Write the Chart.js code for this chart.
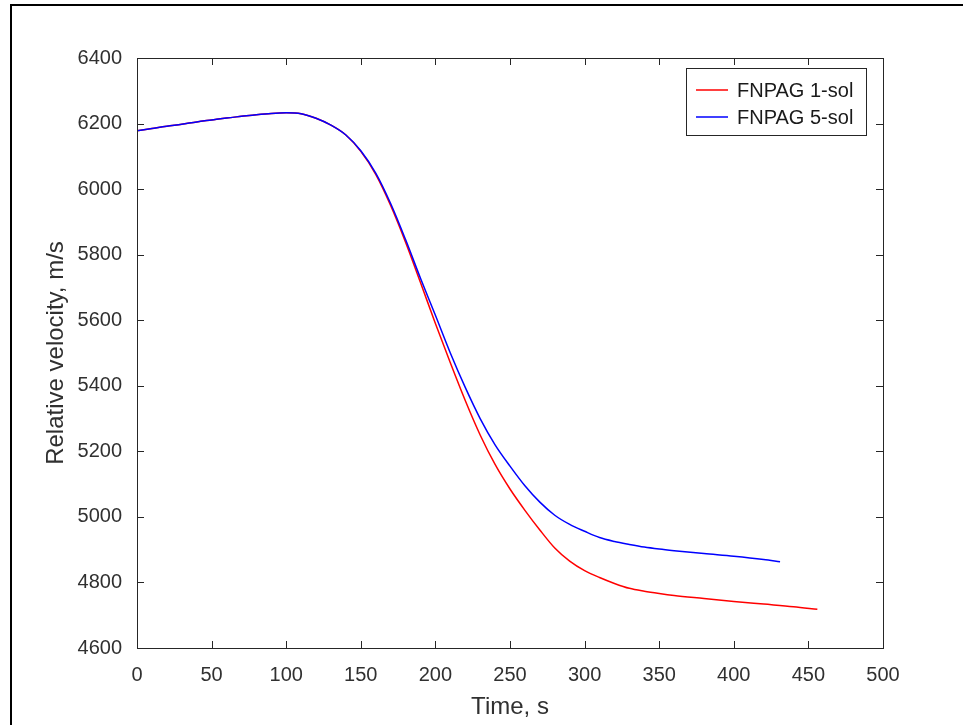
<!DOCTYPE html>
<html>
<head>
<meta charset="utf-8">
<script src="https://cdn.jsdelivr.net/npm/chart.js@4.4.0/dist/chart.umd.min.js"></script>
<style>
  html, body { margin: 0; padding: 0; background: #fff; }
  #wrap { width: 963px; height: 725px; }
</style>
</head>
<body>
<div id="wrap"><canvas id="myChart" width="963" height="725"></canvas></div>
<script>
// time (s) and relative velocity (m/s)
let time1 = [0, 10, 20, 30, 40, 50, 60, 70, 80, 90, 100, 110, 120, 130, 140, 150, 160, 170, 180, 190,
  200, 210, 220, 230, 240, 250, 260, 270, 280, 290, 300, 310, 320, 330, 340, 350, 360, 380, 400, 420, 440, 456];
let vel1 = [6178, 6185, 6192, 6198, 6205, 6211, 6217, 6222, 6227, 6231, 6233, 6230, 6216, 6195, 6165, 6115, 6045, 5950, 5838, 5715,
  5590, 5470, 5355, 5250, 5160, 5085, 5020, 4960, 4905, 4865, 4836, 4815, 4797, 4782, 4773, 4766, 4760, 4751, 4742, 4734, 4726, 4718];

let time5 = [0, 10, 20, 30, 40, 50, 60, 70, 80, 90, 100, 110, 120, 130, 140, 150, 160, 170, 180, 190,
  200, 210, 220, 230, 240, 250, 260, 270, 280, 290, 300, 310, 320, 330, 340, 350, 360, 380, 400, 420, 431];
let vel5 = [6178, 6185, 6192, 6198, 6205, 6211, 6217, 6222, 6227, 6231, 6233, 6230, 6216, 6195, 6165, 6117, 6049, 5956, 5846, 5728,
  5615, 5500, 5395, 5300, 5220, 5155, 5095, 5045, 5005, 4977, 4956, 4937, 4925, 4916, 4908, 4902, 4897, 4888, 4880, 4870, 4863];

let labels = ['FNPAG 1-sol', 'FNPAG 5-sol'];
let colors = ['#ff0000', '#0000ff'];

let xTicks = [0, 50, 100, 150, 200, 250, 300, 350, 400, 450, 500];
let yTicks = [4600, 4800, 5000, 5200, 5400, 5600, 5800, 6000, 6200, 6400];

const axisColor = '#303030';
const font = 'Liberation Sans, Arial, sans-serif';

function pts(xs, ys) {
  return xs.map((x, i) => ({ x: x, y: ys[i] }));
}

// frame, inward ticks, box and legend the MATLAB way
const matlabBox = {
  id: 'matlabBox',
  beforeDraw(chart) {
    const ctx = chart.ctx;
    ctx.save();
    ctx.fillStyle = '#fff';
    ctx.fillRect(0, 0, chart.width, chart.height);
    ctx.strokeStyle = '#000';
    ctx.lineWidth = 2;
    ctx.beginPath();
    ctx.moveTo(11, 725);
    ctx.lineTo(11, 5);
    ctx.lineTo(963, 5);
    ctx.stroke();
    ctx.restore();
  },
  afterDatasetsDraw(chart) {
    const ctx = chart.ctx;
    const a = chart.chartArea;
    const xs = chart.scales.x, ys = chart.scales.y;
    ctx.save();
    ctx.strokeStyle = '#262626';
    ctx.lineWidth = 1;
    ctx.beginPath();
    xTicks.forEach(v => {
      const px = Math.round(xs.getPixelForValue(v)) + 0.5;
      ctx.moveTo(px, a.bottom); ctx.lineTo(px, a.bottom - 7);
      ctx.moveTo(px, a.top); ctx.lineTo(px, a.top + 7);
    });
    yTicks.forEach(v => {
      const py = Math.round(ys.getPixelForValue(v)) + 0.5;
      ctx.moveTo(a.left, py); ctx.lineTo(a.left + 7, py);
      ctx.moveTo(a.right, py); ctx.lineTo(a.right - 7, py);
    });
    ctx.stroke();
    ctx.strokeRect(Math.round(a.left) + 0.5, Math.round(a.top) + 0.5,
      Math.round(a.right - a.left), Math.round(a.bottom - a.top));

    // legend
    const lx = 686, ly = 68, lw = 180, lh = 67;
    ctx.fillStyle = '#fff';
    ctx.fillRect(lx, ly, lw, lh);
    ctx.strokeStyle = '#262626';
    ctx.strokeRect(lx + 0.5, ly + 0.5, lw, lh);
    ctx.font = '20px ' + font;
    ctx.textBaseline = 'middle';
    labels.forEach((lab, i) => {
      const y = ly + 22 + i * 27;
      ctx.strokeStyle = colors[i];
      ctx.lineWidth = 1.5;
      ctx.beginPath();
      ctx.moveTo(lx + 10, y); ctx.lineTo(lx + 42, y);
      ctx.stroke();
      ctx.fillStyle = '#1a1a1a';
      ctx.fillText(lab, lx + 51, y + 1);
    });
    ctx.restore();
  }
};

let myChart = document.getElementById('myChart').getContext('2d');

let chart = new Chart(myChart, {
  type: 'line',
  data: {
    datasets: [{
      label: labels[0],
      data: pts(time1, vel1),
      borderColor: colors[0],
      borderWidth: 1.5,
      pointRadius: 0,
      fill: false,
      order: 2,
      cubicInterpolationMode: 'monotone'
    }, {
      label: labels[1],
      data: pts(time5, vel5),
      borderColor: colors[1],
      borderWidth: 1.5,
      pointRadius: 0,
      fill: false,
      order: 1,
      cubicInterpolationMode: 'monotone'
    }]
  },
  options: {
    responsive: false,
    animation: false,
    layout: { padding: { left: 20, top: 58, right: 80, bottom: 0 } },
    plugins: {
      legend: { display: false },
      tooltip: { enabled: false }
    },
    scales: {
      x: {
        type: 'linear',
        min: 0, max: 500,
        afterBuildTicks: s => { s.ticks = xTicks.map(v => ({ value: v })); },
        afterFit: s => { s.height = 77; },
        grid: { display: false },
        border: { display: false },
        ticks: { color: axisColor, font: { family: font, size: 20 }, padding: 7, maxRotation: 0, callback: v => String(v) },
        title: { display: true, text: 'Time, s', color: axisColor, font: { family: font, size: 24 }, padding: { bottom: 3 } }
      },
      y: {
        type: 'linear',
        min: 4600, max: 6400,
        afterBuildTicks: s => { s.ticks = yTicks.map(v => ({ value: v })); },
        afterFit: s => { s.width = 117; },
        grid: { display: false },
        border: { display: false },
        ticks: { color: axisColor, font: { family: font, size: 20 }, padding: 7, callback: v => String(v) },
        title: { display: true, text: 'Relative velocity, m/s', color: axisColor, font: { family: font, size: 24 }, padding: { top: 22 } }
      }
    }
  },
  plugins: [matlabBox]
});
</script>
</body>
</html>
